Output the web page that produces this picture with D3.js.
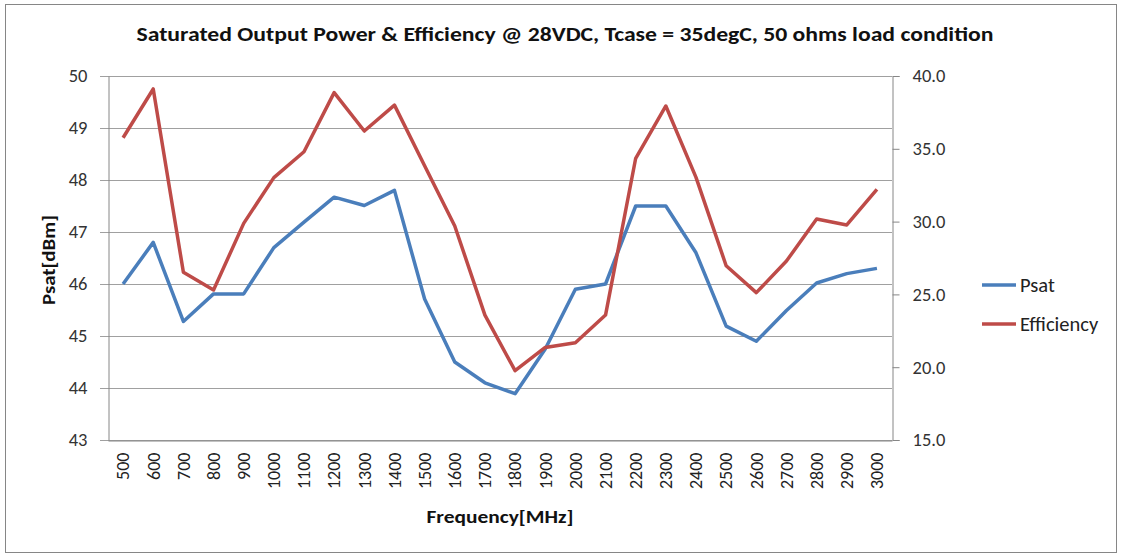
<!DOCTYPE html>
<html>
<head>
<meta charset="utf-8">
<script src="https://cdn.jsdelivr.net/npm/d3@7"></script>
<style>
  body { margin: 0; background: #fff; }
  text { font-family: Carlito, Calibri, Lato, "DejaVu Sans Condensed", sans-serif; }
</style>
</head>
<body>
<div id="chart"></div>
<script>
// Chart data
var frequencies = ['500','600','700','800','900','1000','1100','1200','1300','1400','1500','1600','1700',
                   '1800','1900','2000','2100','2200','2300','2400','2500','2600','2700','2800','2900','3000'];
var psat = [46.0, 46.8, 45.28, 45.81, 45.81, 46.7, 47.19, 47.67, 47.51, 47.8, 45.71, 44.5, 44.1,
            43.89, 44.75, 45.9, 46.0, 47.5, 47.5, 46.6, 45.19, 44.9, 45.49, 46.02, 46.2, 46.3];
var efficiency = [35.76, 39.11, 26.52, 25.3, 29.88, 33.02, 34.8, 38.86, 36.22, 38.0, 33.84, 29.7, 23.58,
                  19.76, 21.36, 21.68, 23.58, 34.35, 37.94, 33.04, 26.97, 25.12, 27.29, 30.18, 29.77, 32.22];
var leftTicks = [43, 44, 45, 46, 47, 48, 49, 50];
var rightTicks = [15, 20, 25, 30, 35, 40];

var chart_width  = 1121;
var chart_height = 555;
var plot = { left: 108, right: 892, top: 76, bottom: 440 };

var svg = d3.select('#chart')
    .append('svg')
    .attr('width', chart_width)
    .attr('height', chart_height);

// outer frame
svg.append('rect')
    .attr('x', 5.5).attr('y', 4.5)
    .attr('width', 1111).attr('height', 548)
    .attr('fill', '#fff')
    .attr('stroke', '#868686')
    .attr('stroke-width', 1);

var x = d3.scaleBand()
    .domain(frequencies)
    .range([plot.left, plot.right]);

var yLeft = d3.scaleLinear()
    .domain([43, 50])
    .range([plot.bottom, plot.top]);

var yRight = d3.scaleLinear()
    .domain([15, 40])
    .range([plot.bottom, plot.top]);

// gridlines (with the little left tick stubs)
svg.append('g')
    .selectAll('line')
    .data(leftTicks)
    .enter()
    .append('line')
    .attr('x1', plot.left - 8)
    .attr('x2', plot.right)
    .attr('y1', function(d){ return Math.round(yLeft(d)) + 0.5; })
    .attr('y2', function(d){ return Math.round(yLeft(d)) + 0.5; })
    .attr('stroke', '#a0a0a0')
    .attr('stroke-width', 1.2);

// left axis
var leftAxis = svg.append('g')
    .attr('transform', 'translate(' + (plot.left + 0.5) + ',0)')
    .call(d3.axisLeft(yLeft).tickValues(leftTicks).tickSize(0).tickPadding(21).tickFormat(d3.format('d')));
leftAxis.select('.domain').attr('stroke', '#868686');
leftAxis.selectAll('text')
    .attr('font-size', 18.5)
    .attr('fill', '#333');

// right axis
var rightAxis = svg.append('g')
    .attr('transform', 'translate(' + (plot.right + 0.5) + ',0)')
    .call(d3.axisRight(yRight).tickValues(rightTicks).tickSize(7).tickPadding(13).tickFormat(d3.format('.1f')));
rightAxis.select('.domain').attr('stroke', '#868686');
rightAxis.selectAll('line').attr('stroke', '#868686');
rightAxis.selectAll('text')
    .attr('font-size', 18.5)
    .attr('fill', '#333');

// bottom axis, labels turned upright
var bottomAxis = svg.append('g')
    .attr('transform', 'translate(0,' + (plot.bottom + 0.5) + ')')
    .call(d3.axisBottom(x).tickSize(0).tickPadding(0));
bottomAxis.select('.domain').attr('stroke', '#868686');
bottomAxis.selectAll('text')
    .attr('font-size', 18)
    .attr('fill', '#222')
    .attr('text-anchor', 'end')
    .attr('dy', '0.35em')
    .attr('transform', 'translate(0,12) rotate(-90)')
    .attr('x', 0)
    .attr('y', 0);

// lines
var psatLine = d3.line()
    .x(function(d, i){ return x(frequencies[i]) + x.bandwidth() / 2; })
    .y(function(d){ return yLeft(d); });

var effLine = d3.line()
    .x(function(d, i){ return x(frequencies[i]) + x.bandwidth() / 2; })
    .y(function(d){ return yRight(d); });

svg.append('path')
    .datum(psat)
    .attr('d', psatLine)
    .attr('fill', 'none')
    .attr('stroke', '#4a7ebb')
    .attr('stroke-width', 3.5)
    .attr('stroke-linejoin', 'round');

svg.append('path')
    .datum(efficiency)
    .attr('d', effLine)
    .attr('fill', 'none')
    .attr('stroke', '#be4b48')
    .attr('stroke-width', 3.5)
    .attr('stroke-linejoin', 'round');

// titles
svg.append('text')
    .attr('x', 565)
    .attr('y', 41)
    .attr('text-anchor', 'middle')
    .attr('font-size', 20)
    .attr('font-weight', 'bold')
    .attr('fill', '#111')
    .attr('textLength', 857)
    .attr('lengthAdjust', 'spacingAndGlyphs')
    .text('Saturated Output Power & Efficiency @ 28VDC, Tcase = 35degC, 50 ohms load condition');

svg.append('text')
    .attr('x', 500)
    .attr('y', 523)
    .attr('text-anchor', 'middle')
    .attr('font-size', 19)
    .attr('font-weight', 'bold')
    .attr('fill', '#111')
    .attr('textLength', 147)
    .attr('lengthAdjust', 'spacingAndGlyphs')
    .text('Frequency[MHz]');

svg.append('text')
    .attr('transform', 'translate(55,260) rotate(-90)')
    .attr('text-anchor', 'middle')
    .attr('font-size', 19)
    .attr('font-weight', 'bold')
    .attr('fill', '#111')
    .attr('textLength', 90)
    .attr('lengthAdjust', 'spacingAndGlyphs')
    .text('Psat[dBm]');

// legend
var legendNames = ['Psat', 'Efficiency'];
var legendColors = ['#4a7ebb', '#be4b48'];
var legend = svg.append('g')
    .selectAll('g')
    .data(legendNames)
    .enter()
    .append('g')
    .attr('transform', function(d, i){ return 'translate(982,' + (285 + i * 39) + ')'; });

legend.append('line')
    .attr('x1', 0).attr('x2', 34)
    .attr('y1', 0).attr('y2', 0)
    .attr('stroke', function(d, i){ return legendColors[i]; })
    .attr('stroke-width', 3.5);

legend.append('text')
    .attr('x', 38)
    .attr('y', 0)
    .attr('dy', '0.35em')
    .attr('font-size', 20.5)
    .attr('fill', '#222')
    .text(function(d){ return d; });
</script>
</body>
</html>
